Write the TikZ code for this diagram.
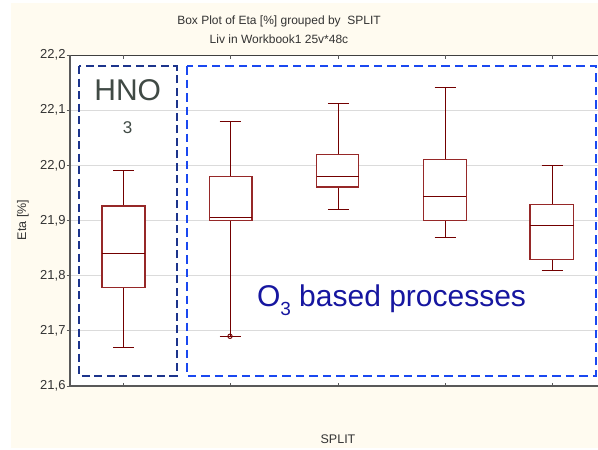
\documentclass[tikz,border=0pt]{standalone}
\usepackage{fontspec}
\setmainfont{Liberation Sans}
\begin{document}
\begin{tikzpicture}[x=1pt,y=-1pt,
  every node/.style={inner sep=0pt, outer sep=0pt},
  small/.style={font=\fontsize{12}{14}\selectfont, text=black!80},
  ticklab/.style={font=\fontsize{13}{15}\selectfont, text=black!80, anchor=east},
  grid/.style={draw=black!14, line width=1pt},
  axis/.style={draw=black!65, line width=1.4pt},
  whisk/.style={draw=red!45!black, line width=1pt},
  boxedge/.style={draw={rgb,255:red,150;green,40;blue,40}, line width=1.15pt, fill=white},
  hnoframe/.style={draw={rgb,255:red,28;green,52;blue,140}, line width=2.2pt, dash pattern=on 8pt off 4.5pt},
  oframe/.style={draw={rgb,255:red,26;green,72;blue,240}, line width=2.2pt, dash pattern=on 8.5pt off 5pt}]
\definecolor{paper}{RGB}{255,251,240}
\definecolor{hnotext}{RGB}{64,74,69}
\definecolor{otext}{RGB}{22,22,160}

% page and plot area
\useasboundingbox (0,0) rectangle (598,450);
\fill[white] (0,0) rectangle (598,450);
\fill[paper] (11,3) rectangle (598,448);
\fill[white] (70,55) rectangle (598,386);

% horizontal grid
\foreach \py in {110.2,165.3,220.5,275.7,330.8}
  \draw[grid] (70,\py) -- (598,\py);

% axes frame
\draw[draw=black!75, line width=1pt] (70,55) -- (598,55);
\draw[axis] (598,386) -- (70,386) -- (70,55);

% y tick marks and labels
\foreach \py in {55,110.2,165.3,220.5,275.7,330.8,386}
  \draw[black!65, line width=1pt] (66.5,\py) -- (70,\py);
\node[ticklab] (t222) at (65.5,55) {22,2};
\node[ticklab] (t221) at (65.5,110.2) {22,1};
\node[ticklab] (t220) at (65.5,165.3) {22,0};
\node[ticklab] (t219) at (65.5,220.5) {21,9};
\node[ticklab] (t218) at (65.5,275.7) {21,8};
\node[ticklab] (t217) at (65.5,330.8) {21,7};
\node[ticklab] (t216) at (65.5,386) {21,6};

% x tick marks (inside, top and bottom)
\foreach \px in {123.7,230,338.3,445,552}{
  \draw[black!65, line width=1pt] (\px,55) -- (\px,58.5);
  \draw[black!65, line width=1pt] (\px,386) -- (\px,382.5);
}

% box plots: centre, box left, box right, upper whisker, Q3, median, Q1, lower whisker
\newcommand\boxwhisker[8]{%
  \draw[whisk] (#1,#4) -- (#1,#5) (#1,#7) -- (#1,#8);
  \draw[whisk] (#1-10.5,#4) -- (#1+10.5,#4) (#1-10.5,#8) -- (#1+10.5,#8);
  \draw[boxedge] (#2,#5) rectangle (#3,#7);
  \draw[whisk] (#2,#6) -- (#3,#6);
}
\boxwhisker{123.7}{102}{145}{170.7}{206}{253.3}{287.3}{347.7}
\boxwhisker{230}{209.7}{252}{121}{176.7}{217.3}{220.7}{336.3}
\boxwhisker{338.3}{316.7}{358.7}{103.7}{154.3}{176.7}{187}{209.3}
\boxwhisker{445}{423.3}{466.3}{87.3}{159.3}{196}{220.7}{237}
\boxwhisker{552}{530}{573.7}{165.3}{204.3}{225.7}{259.3}{270.7}
\draw[whisk, line width=0.9pt] (230,336.3) circle (2.2pt);

% group frames
\draw[hnoframe] (79,66) rectangle (176.7,375.7);
\draw[oframe] (187.3,66) rectangle (595.7,376);

% group labels
\node[font=\fontsize{30}{32}\selectfont, text=hnotext] (hno) at (127.7,90) {HNO};
\node[font=\fontsize{17}{19}\selectfont, text=hnotext] (hnosub) at (127.7,128) {3};
\node[font=\fontsize{30}{32}\selectfont, text=otext, anchor=base west] (ozone) at (257,306.5) {O\raisebox{-0.3em}{\fontsize{19}{20}\selectfont 3} based processes};

% titles
\node[small] (title1) at (279,21.7) {Box Plot of Eta [\%] grouped by\ \ SPLIT};
\node[small] (title2) at (279,39) {Liv in Workbook1 25v*48c};
\node[small, font=\fontsize{12.5}{14}\selectfont] (xlab) at (338,439) {SPLIT};
\node[small, font=\fontsize{12.5}{14}\selectfont, rotate=90] (ylab) at (23,220) {Eta [\%]};
\end{tikzpicture}
\end{document}
